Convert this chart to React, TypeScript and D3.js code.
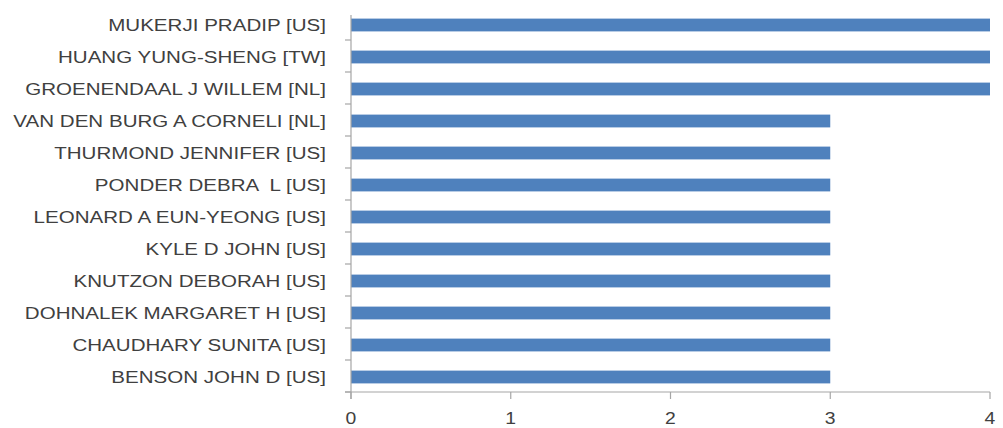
import React from "react";
import * as d3 from "d3";

const categories = [
  "MUKERJI PRADIP [US]",
  "HUANG YUNG-SHENG [TW]",
  "GROENENDAAL J WILLEM [NL]",
  "VAN DEN BURG A CORNELI [NL]",
  "THURMOND JENNIFER [US]",
  "PONDER DEBRA  L [US]",
  "LEONARD A EUN-YEONG [US]",
  "KYLE D JOHN [US]",
  "KNUTZON DEBORAH [US]",
  "DOHNALEK MARGARET H [US]",
  "CHAUDHARY SUNITA [US]",
  "BENSON JOHN D [US]",
];
const values = [4, 4, 4, 3, 3, 3, 3, 3, 3, 3, 3, 3];
const xTicks = [0, 1, 2, 3, 4];

const W = 1003;
const H = 428;

export default function App() {
  const x = d3.scaleLinear().domain([0, 4]).range([351, 990]);
  const y = d3
    .scaleBand<string>()
    .domain(categories)
    .range([9, 393])
    .paddingInner(0.6)
    .paddingOuter(0.3);
  const step = y.step();
  const [y0, y1] = y.range();
  const axisY = y1 - 1;
  const axisColor = "#a6a6a6";
  const textColor = "#404040";
  const font = "'Liberation Sans', Arial, sans-serif";
  const sx = 1.21;

  return (
    <svg
      width={W}
      height={H}
      style={{ position: "absolute", left: 0, top: 0, display: "block", background: "#fff" }}
    >
      {categories.map((c, i) => (
        <rect
          key={c}
          x={x(0)}
          y={y(c)!}
          width={x(values[i]) - x(0)}
          height={y.bandwidth()}
          fill="#4f81bd"
        />
      ))}
      {/* y axis */}
      <line x1={x(0)} x2={x(0)} y1={y0 + 6} y2={axisY + 7} stroke={axisColor} strokeWidth={1.2} />
      {categories.map((c, i) => (
        <line
          key={"t" + c}
          x1={x(0) - 6}
          x2={x(0)}
          y1={y0 + (i + 1) * step - 1}
          y2={y0 + (i + 1) * step - 1}
          stroke={axisColor}
          strokeWidth={1.2}
        />
      ))}
      {/* x axis */}
      <line x1={x(0) - 6} x2={x(4)} y1={axisY} y2={axisY} stroke={axisColor} strokeWidth={1.2} />
      {xTicks.map((t) => (
        <g key={"x" + t}>
          <line x1={x(t)} x2={x(t)} y1={axisY} y2={axisY + 7} stroke={axisColor} strokeWidth={1.2} />
          <text
            transform={`translate(${x(t)},${axisY + 32}) scale(${sx},1)`}
            textAnchor="middle"
            fontFamily={font}
            fontSize={16}
            fill={textColor}
          >
            {t}
          </text>
        </g>
      ))}
      {categories.map((c) => (
        <text
          key={"l" + c}
          transform={`translate(326,${y(c)! + y.bandwidth() / 2 + 6}) scale(${sx},1)`}
          textAnchor="end"
          fontFamily={font}
          fontSize={17}
          fill={textColor}
          style={{ whiteSpace: "pre" }}
        >
          {c}
        </text>
      ))}
    </svg>
  );
}
